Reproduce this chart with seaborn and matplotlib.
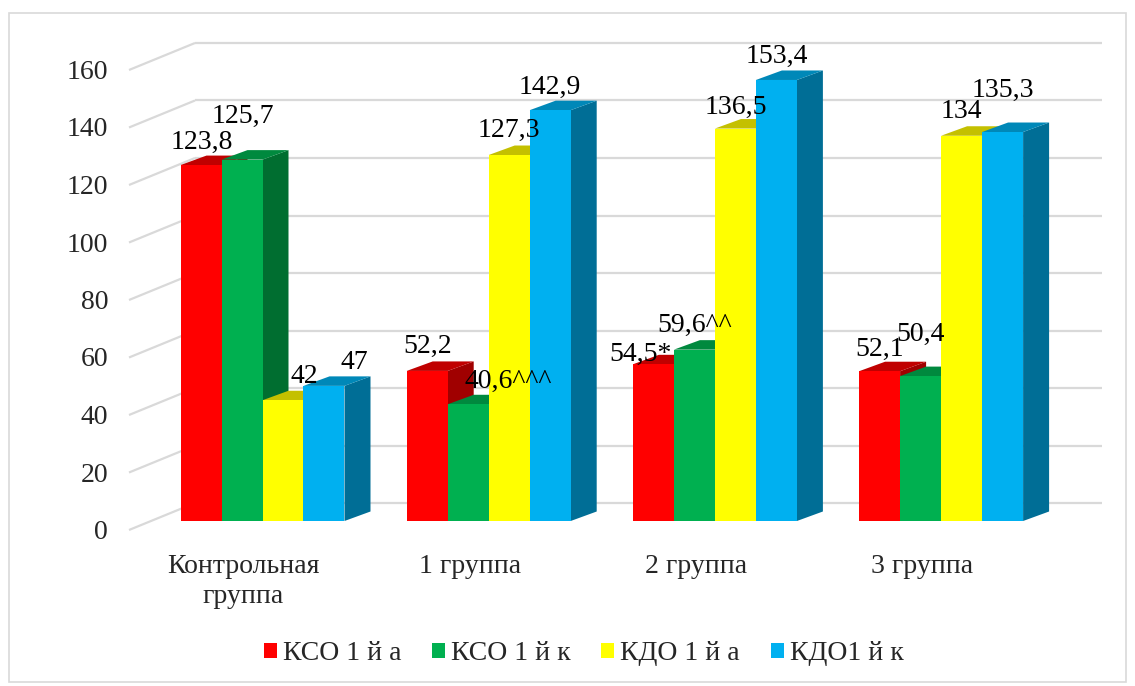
import numpy as np
import pandas as pd
import matplotlib
matplotlib.use('Agg')
import matplotlib.pyplot as plt
import seaborn as sns
from matplotlib.patches import Polygon, Rectangle, Patch

# ---------------- data ----------------
categories = ['Контрольная\nгруппа', '1 группа', '2 группа', '3 группа']
series = ['КСО 1 й а', 'КСО 1 й к', 'КДО 1 й а', 'КДО1 й к']
kso_1a = [123.8, 52.2, 54.5, 52.1]
kso_1k = [125.7, 40.6, 59.6, 50.4]
kdo_1a = [42, 127.3, 136.5, 134]
kdo_1k = [47, 142.9, 153.4, 135.3]
label_kso_1a = ['123,8', '52,2', '54,5*', '52,1']
label_kso_1k = ['125,7', '40,6^^^', '59,6^^', '50,4']
label_kdo_1a = ['42', '127,3', '136,5', '134']
label_kdo_1k = ['47', '142,9', '153,4', '135,3']
yticks = [0, 20, 40, 60, 80, 100, 120, 140, 160]

# ---------------- styles ----------------
front_colors = ['#FF0000', '#00B050', '#FFFF00', '#00B0F0']
top_colors = ['#C00000', '#00893E', '#C4C000', '#0088B8']
side_colors = ['#A00000', '#006E30', '#A8A400', '#006E96']
# label offsets (pixels, right / up) from the top-front centre of each bar
label_offsets = [
    [(1, 25), (0, 27), (-13, 12), (0, 24)],
    [(1, 45), (40, 25), (0, 26), (0, 44)],
    [(21, 26), (0, 27), (0, 23), (0, 26)],
    [(30, 26), (0, 25), (0, 26), (0, 44)],
]

W, H, DPI = 1135, 686, 100
PX_X = 226.2      # pixels per category
PX_Y = 2.875      # pixels per value unit
X0_PX = 262.5     # pixel x of category 0
Y0_PX = 521.0     # pixel y of value 0 (bar plane)

DEPTH_DX = 26 / PX_X
DEPTH_DY = 9.5 / PX_Y
FRONT_DX, FRONT_DY = -22 / PX_X, -9 / PX_Y
BACK_DX, BACK_DY = 44 / PX_X, 18 / PX_Y
FLOOR_LEFT = (151 - X0_PX) / PX_X
BACK_RIGHT = (1102 - X0_PX) / PX_X
GRID = '#D9D9D9'
FONT = 'Liberation Serif'
FS = 20

sns.set_theme(style='white')
plt.rcParams['font.family'] = [FONT, 'DejaVu Serif']

values = [kso_1a, kso_1k, kdo_1a, kdo_1k]
labels = [label_kso_1a, label_kso_1k, label_kdo_1a, label_kdo_1k]
rows = []
for s, vals in zip(series, values):
    for c, v in zip(categories, vals):
        rows.append({'group': c, 'series': s, 'value': v})
df = pd.DataFrame(rows)

fig = plt.figure(figsize=(W / DPI, H / DPI), dpi=DPI)
ax = fig.add_axes([0, 0, 1, 1])

sns.barplot(data=df, x='group', y='value', hue='series', order=categories,
            hue_order=series, palette=dict(zip(series, front_colors)),
            width=0.725, errorbar=None, legend=False, ax=ax,
            linewidth=0, saturation=1)

ax.set_xlim((0 - X0_PX) / PX_X, (W - X0_PX) / PX_X)
ax.set_ylim((Y0_PX - H) / PX_Y, Y0_PX / PX_Y)
ax.set_axis_off()

# walls: back gridlines and left diagonal gridlines
for v in yticks:
    xb = FLOOR_LEFT + BACK_DX
    ax.plot([xb, BACK_RIGHT], [v + BACK_DY, v + BACK_DY], color=GRID, lw=1.6,
            zorder=1, solid_capstyle='butt')
    ax.plot([FLOOR_LEFT + FRONT_DX, xb], [v + FRONT_DY, v + BACK_DY],
            color=GRID, lw=1.6, zorder=1, solid_capstyle='butt')
    ax.annotate(str(v), xy=(FLOOR_LEFT + FRONT_DX, v + FRONT_DY),
                xytext=(-21, -9), textcoords='offset pixels',
                ha='right', va='baseline', fontsize=FS, family=FONT)

# 3D faces and value labels
bars = sorted([p for p in ax.patches if isinstance(p, Rectangle)], key=lambda p: p.get_x())
for i, p in enumerate(bars):
    x0, w, h = p.get_x(), p.get_width(), p.get_height()
    cx = x0 + w / 2
    cat = int(round(cx))
    j = int(round((cx - cat) / w + 1.5))
    z = 3 + 2 * i
    p.set_zorder(z + 1)
    x1 = x0 + w
    top = Polygon([(x0, h), (x1, h), (x1 + DEPTH_DX, h + DEPTH_DY), (x0 + DEPTH_DX, h + DEPTH_DY)],
                  closed=True, facecolor=top_colors[j], edgecolor='none', zorder=z)
    side = Polygon([(x1, 0), (x1 + DEPTH_DX, DEPTH_DY), (x1 + DEPTH_DX, h + DEPTH_DY), (x1, h)],
                   closed=True, facecolor=side_colors[j], edgecolor='none', zorder=z)
    ax.add_patch(side)
    ax.add_patch(top)
    dx, dy = label_offsets[j][cat]
    ax.annotate(labels[j][cat], xy=(cx, h), xytext=(dx, dy - 8.75),
                textcoords='offset pixels', ha='center', va='baseline',
                fontsize=FS, family=FONT, zorder=200, color='black')

# category labels (top-aligned so the first lines share a baseline)
for k, c in enumerate(categories):
    ax.annotate(c, xy=(k + FRONT_DX, 0), xytext=(3, -33),
                textcoords='offset pixels', ha='center', va='top',
                fontsize=FS, family=FONT, linespacing=1.25)

# legend
handles = [Patch(facecolor=col, edgecolor='none') for col in front_colors]
fig.legend(handles, series, loc='center', bbox_to_anchor=(583.5 / W, 1 - 654 / H),
           ncol=4, frameon=False, prop={'family': FONT, 'size': FS},
           handlelength=0.47, handleheight=0.47, handletextpad=0.22,
           columnspacing=1.1, borderpad=0, borderaxespad=0)

# chart border
fig.patches.append(Rectangle((9 / W, 1 - 682 / H), (1126 - 9) / W, (682 - 13) / H,
                             transform=fig.transFigure, fill=False,
                             edgecolor=GRID, lw=1.2))

fig.savefig('out.png', dpi=DPI)
